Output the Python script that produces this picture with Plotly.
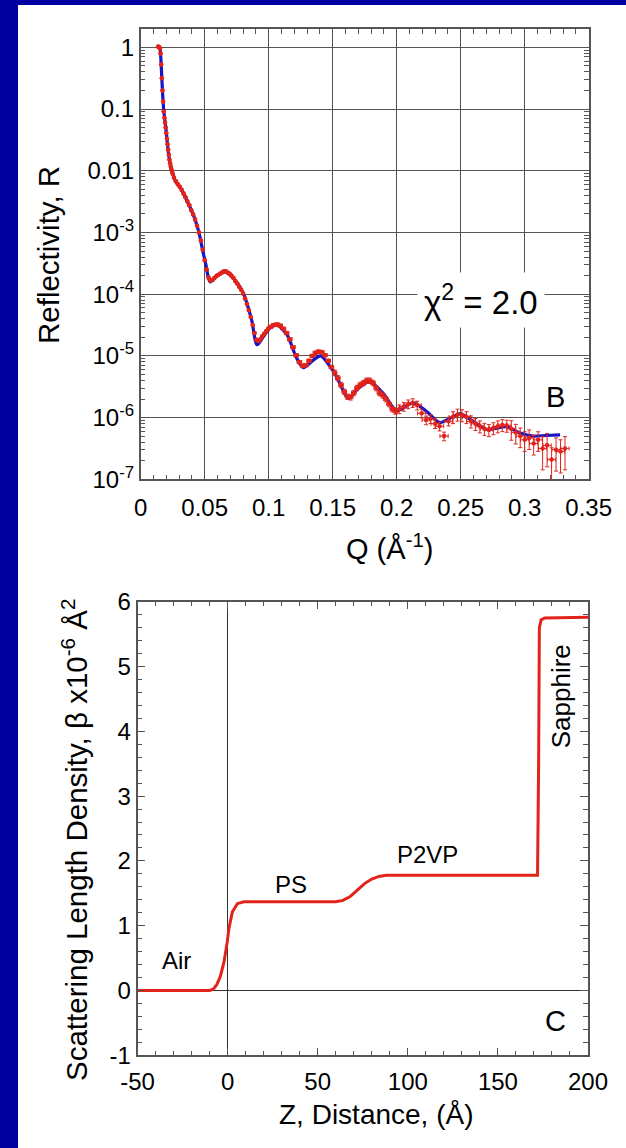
import numpy as np
import plotly.graph_objects as go

# ---- Neutron reflectivity: measured points (Q in 1/Å, log10 R) ----
q_data = [
    0.0135, 0.0140, 0.0145, 0.0150, 0.0155, 0.0160, 0.0165, 0.0170, 0.0175, 0.0180,
    0.0185, 0.0190, 0.0195, 0.0200, 0.0205, 0.0210, 0.0215, 0.0220, 0.0225, 0.0230,
    0.0235, 0.0240, 0.0245, 0.0250,
    0.0260, 0.0275, 0.0290, 0.0305, 0.0320, 0.0335, 0.0350, 0.0365, 0.0380, 0.0395,
    0.0410, 0.0425, 0.0440, 0.0455, 0.0470, 0.0485, 0.0500, 0.0515, 0.0530, 0.0545,
    0.0560, 0.0575, 0.0590, 0.0605, 0.0620, 0.0635, 0.0650, 0.0665, 0.0680, 0.0695,
    0.0710, 0.0725, 0.0740, 0.0755, 0.0770, 0.0785, 0.0800, 0.0815, 0.0830, 0.0845,
    0.0860, 0.0875, 0.0890, 0.0905, 0.0920, 0.0935, 0.0950, 0.0965, 0.0980, 0.0995,
    0.1015, 0.1040, 0.1065, 0.1090, 0.1115, 0.1140, 0.1165, 0.1190, 0.1215, 0.1240,
    0.1265, 0.1290, 0.1315, 0.1340, 0.1365, 0.1390, 0.1415, 0.1440, 0.1465, 0.1490,
    0.1515, 0.1540, 0.1565, 0.1590, 0.1615, 0.1640, 0.1665, 0.1690, 0.1715, 0.1740,
    0.1765, 0.1790, 0.1815, 0.1840, 0.1865, 0.1890, 0.1915, 0.1940, 0.1965, 0.1990,
    0.2020, 0.2055, 0.2090, 0.2125, 0.2160, 0.2195, 0.2230, 0.2265, 0.2300, 0.2335,
    0.2370, 0.2405, 0.2440, 0.2475, 0.2510, 0.2545, 0.2580, 0.2615, 0.2650, 0.2685,
    0.2720, 0.2755, 0.2790, 0.2825, 0.2860, 0.2895, 0.2930, 0.2965, 0.3000, 0.3035,
    0.3070, 0.3105, 0.3140, 0.3175, 0.3210, 0.3245, 0.3280, 0.3315,
]
log_r_data = [
    0.01, 0.01, 0.00, -0.02, -0.10, -0.28, -0.50, -0.70, -0.88, -1.04,
    -1.14, -1.22, -1.30, -1.39, -1.48, -1.57, -1.66, -1.74, -1.82, -1.88,
    -1.93, -1.98, -2.02, -2.05,
    -2.11, -2.17, -2.22, -2.26, -2.31, -2.37, -2.43, -2.50, -2.56, -2.64,
    -2.71, -2.79, -2.89, -3.00, -3.13, -3.28, -3.45, -3.60, -3.73, -3.78,
    -3.77, -3.74, -3.71, -3.69, -3.67, -3.65, -3.63, -3.63, -3.65, -3.67,
    -3.70, -3.74, -3.79, -3.83, -3.88, -3.93, -3.99, -4.07, -4.16, -4.26,
    -4.37, -4.50, -4.63, -4.74, -4.76, -4.73, -4.68, -4.64, -4.60, -4.56,
    -4.53, -4.50, -4.49, -4.51, -4.56, -4.63, -4.73, -4.86, -4.99, -5.10,
    -5.16, -5.15, -5.08, -5.00, -4.95, -4.93, -4.94, -4.99, -5.08, -5.18,
    -5.27, -5.36, -5.47, -5.58, -5.66, -5.67, -5.60, -5.52, -5.47, -5.44,
    -5.40, -5.40, -5.44, -5.52, -5.60, -5.64, -5.70, -5.78, -5.86, -5.90,
    -5.86, -5.82, -5.78, -5.76, -5.80, -5.93, -6.04, -6.02, -6.10, -6.14,
    -6.30, -6.06, -5.99, -5.95, -5.96, -5.99, -6.06, -6.10, -6.14, -6.18,
    -6.20, -6.17, -6.14, -6.12, -6.13, -6.18, -6.24, -6.30, -6.36, -6.33,
    -6.42, -6.36, -6.50, -6.45, -6.68, -6.52, -6.55, -6.50,
]
# relative uncertainty in R and Q resolution for each point
r_rel_err = [0.01] * 24 + [0.03] * 50 + [0.06] * 20 + [0.10] * 20 + \
            [0.16] * 12 + [0.22] * 13 + [0.35] * 7 + [0.55] * 6
dq_data = [0.0003] * 24 + [0.0006] * 50 + [0.0018] * 40 + [0.0032] * 38

# ---- Model fit ----
q_fit = [
    0.0135, 0.0148, 0.0153, 0.0158, 0.0165, 0.0172, 0.0180, 0.0198, 0.0216, 0.0230,
    0.0242, 0.0268, 0.0320, 0.0370, 0.0416, 0.0455, 0.0484, 0.0510, 0.0526, 0.0541,
    0.0565, 0.0594, 0.0659, 0.0723, 0.0802, 0.0867, 0.0909, 0.0958, 0.1010, 0.1063,
    0.1141, 0.1219, 0.1270, 0.1348, 0.1405, 0.1505, 0.1557, 0.1622, 0.1698, 0.1791,
    0.1895, 0.2000, 0.2130, 0.2234, 0.2338, 0.2495, 0.2598, 0.2703, 0.2859, 0.2963,
    0.3067, 0.3166, 0.3276,
]
log_r_fit = [
    0.00, -0.01, -0.05, -0.20, -0.50, -0.78, -1.02, -1.34, -1.70, -1.89,
    -1.99, -2.15, -2.31, -2.52, -2.74, -3.00, -3.29, -3.53, -3.71, -3.80,
    -3.77, -3.70, -3.64, -3.74, -3.99, -4.42, -4.82, -4.69, -4.55, -4.50,
    -4.65, -5.04, -5.19, -5.07, -5.00, -5.25, -5.45, -5.69, -5.53, -5.42,
    -5.61, -5.89, -5.76, -5.90, -6.08, -5.94, -6.06, -6.19, -6.15, -6.25,
    -6.30, -6.29, -6.28,
]

# ---- Scattering length density profile ----
z_sld = [-50, -10, -8, -6, -4, -2, -0.2, 0.7, 2.6, 5.4, 9, 60, 64, 68, 72, 76, 80, 84, 88,
         172.0, 172.6, 173.0, 174.0, 176.0, 200]
beta_sld = [0.0, 0.0, 0.02, 0.09, 0.22, 0.44, 0.75, 0.95, 1.21, 1.34, 1.37, 1.37, 1.39, 1.45,
            1.55, 1.65, 1.72, 1.76, 1.78, 1.78, 3.50, 5.60, 5.72, 5.75, 5.76]

# tick labels
q_ticks = [0, 0.05, 0.1, 0.15, 0.2, 0.25, 0.3, 0.35]
q_tick_text = ["0", "0.05", "0.1", "0.15", "0.2", "0.25", "0.3", "0.35"]
r_ticks = [1e-7, 1e-6, 1e-5, 1e-4, 1e-3, 1e-2, 1e-1, 1]
r_tick_text = ["10<sup>-7</sup>", "10<sup>-6</sup>", "10<sup>-5</sup>", "10<sup>-4</sup>",
               "10<sup>-3</sup>", "0.01", "0.1", "1"]
z_ticks = [-50, 0, 50, 100, 150, 200]
z_tick_text = ["-50", "0", "50", "100", "150", "200"]
beta_ticks = [-1, 0, 1, 2, 3, 4, 5, 6]
beta_tick_text = ["-1", "0", "1", "2", "3", "4", "5", "6"]

W, H = 626, 1148
RED = "#E2231A"
BLUE = "#1414C8"
NAVY = "#0000A0"
AX = "#555555"
FONT = "Liberation Sans, Arial, sans-serif"

r_data = 10 ** np.array(log_r_data)
r_fit = 10 ** np.array(log_r_fit)
r_err = r_data * np.array(r_rel_err)

fig = go.Figure()
fig.add_trace(go.Scatter(
    x=q_fit, y=r_fit, mode="lines",
    line=dict(color=BLUE, width=3.2, shape="spline", smoothing=0.8),
    xaxis="x", yaxis="y", hoverinfo="skip"))
fig.add_trace(go.Scatter(
    x=q_data, y=r_data, mode="markers",
    marker=dict(color=RED, size=4.5),
    error_y=dict(type="data", array=r_err, arrayminus=r_err, color=RED, thickness=1, width=2),
    error_x=dict(type="data", array=dq_data, color=RED, thickness=1, width=2),
    xaxis="x", yaxis="y"))
fig.add_trace(go.Scatter(
    x=z_sld, y=beta_sld, mode="lines",
    line=dict(color=RED, width=3),
    xaxis="x2", yaxis="y2"))

def px_x(p):
    return p / W

def px_y(p):
    return 1 - p / H

frame = dict(showline=True, linecolor=AX, linewidth=1.5, mirror="allticks",
             ticks="inside", tickcolor=AX, tickwidth=1.2, automargin=False,
             tickfont=dict(size=24, color="black", family=FONT))

fig.update_layout(
    width=W, height=H, margin=dict(l=0, r=0, t=0, b=0, pad=0, autoexpand=False),
    paper_bgcolor="white", plot_bgcolor="white", showlegend=False,
    font=dict(family=FONT, color="black"),
    xaxis=dict(domain=[px_x(140.7), px_x(588.7)], range=[0, 0.35],
               tickvals=q_ticks, ticktext=q_tick_text, ticklabelstandoff=6,
               anchor="y", ticklen=8, showgrid=True, gridcolor=AX, gridwidth=1.3,
               zeroline=False,
               minor=dict(ticks="inside", ticklen=5, dtick=0.01, tickcolor=AX, showgrid=False),
               **frame),
    yaxis=dict(domain=[px_y(479.3), px_y(28.8)], type="log", range=[-7, 0.3],
               tickvals=r_ticks, ticktext=r_tick_text, anchor="x", ticklen=8,
               showgrid=True, gridcolor=AX, gridwidth=1.3, zeroline=False,
               minor=dict(ticks="inside", ticklen=5, dtick="D1", tickcolor=AX, showgrid=False),
               **frame),
    xaxis2=dict(domain=[px_x(137.5), px_x(588)], range=[-50, 200],
                tickvals=z_ticks, ticktext=z_tick_text, ticklabelstandoff=4,
                anchor="y2", ticklen=8, showgrid=False,
                zeroline=True, zerolinecolor="#333", zerolinewidth=1,
                minor=dict(ticks="inside", ticklen=5, dtick=10, tick0=0, tickcolor=AX),
                **frame),
    yaxis2=dict(domain=[px_y(1055.3), px_y(601.7)], range=[-1, 6],
                tickvals=beta_ticks, ticktext=beta_tick_text,
                anchor="x2", ticklen=8, showgrid=False,
                zeroline=True, zerolinecolor="#333", zerolinewidth=1,
                minor=dict(ticks="inside", ticklen=5, dtick=0.2, tick0=0, tickcolor=AX),
                **frame),
)

# dark frame around the page
fig.add_shape(type="rect", xref="paper", yref="paper", x0=0, x1=px_x(18), y0=0, y1=1,
              fillcolor=NAVY, line=dict(width=0), layer="above")
fig.add_shape(type="rect", xref="paper", yref="paper", x0=0, x1=1, y0=px_y(5), y1=1,
              fillcolor=NAVY, line=dict(width=0), layer="above")

def label(text, x, y, size, xref="paper", yref="paper", angle=0, **kw):
    fig.add_annotation(text=text, x=x, y=y, xref=xref, yref=yref, showarrow=False,
                       textangle=angle, xanchor="center", yanchor="middle",
                       font=dict(size=size, color="black", family=FONT), **kw)

# axis titles
label("Reflectivity, R", px_x(48), px_y(255), 29.5, angle=-90)
label("Q (Å<sup>-1</sup>)", px_x(389), px_y(547), 29)
label("Z, Distance, (Å)", px_x(376), px_y(1114), 28)
label("Scattering Length Density, β x10<sup>-6</sup> Å<sup>2</sup>", px_x(74), px_y(840), 29.5,
      angle=-90)

# panel annotations
label("χ<sup>2</sup> = 2.0", 0.2655, -4.10, 33, xref="x", yref="y", bgcolor="white", borderpad=6)
label("B", 0.3237, -5.667, 29, xref="x", yref="y")
label("C", 182, -0.47, 29, xref="x2", yref="y2")
label("Air", -28.3, 0.46, 24, xref="x2", yref="y2")
label("PS", 35.4, 1.63, 24, xref="x2", yref="y2")
label("P2VP", 111, 2.1, 24, xref="x2", yref="y2")
label("Sapphire", 185, 4.54, 26, xref="x2", yref="y2", angle=-90)

fig.write_html("out.html")
